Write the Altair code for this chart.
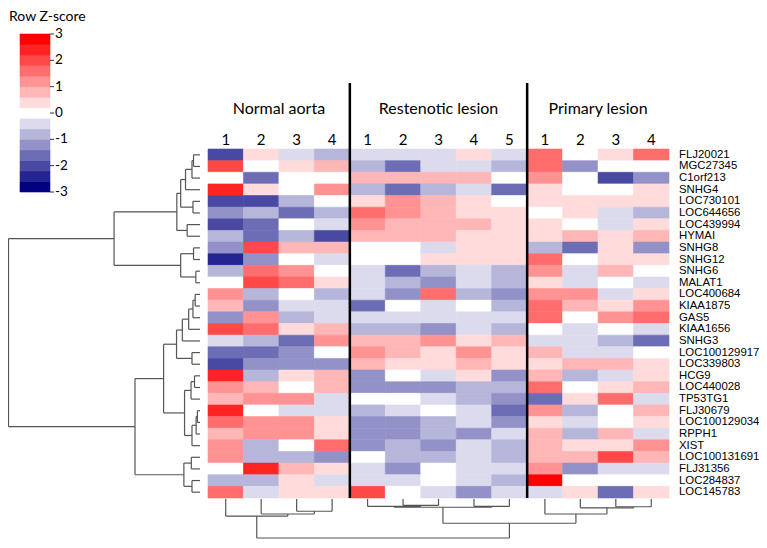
import altair as alt
import pandas as pd

genes = ["FLJ20021", "MGC27345", "C1orf213", "SNHG4", "LOC730101", "LOC644656",
         "LOC439994", "HYMAI", "SNHG8", "SNHG12", "SNHG6", "MALAT1", "LOC400684",
         "KIAA1875", "GAS5", "KIAA1656", "SNHG3", "LOC100129917", "LOC339803", "HCG9",
         "LOC440028", "TP53TG1", "FLJ30679", "LOC100129034", "RPPH1", "XIST",
         "LOC100131691", "FLJ31356", "LOC284837", "LOC145783"]
groups = ["Normal aorta", "Restenotic lesion", "Primary lesion"]
sample_labels = [["1", "2", "3", "4"], ["1", "2", "3", "4", "5"], ["1", "2", "3", "4"]]

# Row Z-scores (one inner list per gene)
normal_aorta = [
    [-2.0, 0.4, -0.4, -0.8], [2.0, 0.0, 0.4, 0.8], [0.0, -1.6, 0.0, 0.0], [2.4, 0.4, 0.0, 1.2],
    [-2.0, -2.0, -0.8, 0.0], [-1.2, -0.8, -1.6, -0.8], [-2.0, -1.6, 0.0, -0.4], [-0.8, -1.6, -0.8, -2.0],
    [-1.2, 2.0, 0.8, 0.8], [-2.4, -1.2, 0.0, -0.4], [-0.8, 1.6, 1.2, 0.0], [0.0, 2.0, 1.6, 0.4],
    [1.2, -0.8, 0.0, -0.8], [0.8, -1.2, -0.4, -0.4], [-1.2, 1.2, -0.8, -0.4], [2.0, 1.6, 0.4, 0.8],
    [-0.4, -0.8, -1.6, 1.2], [-1.6, -1.6, -1.2, 0.0], [-2.0, -1.2, -1.2, -1.2], [2.4, -0.8, 0.4, 0.8],
    [1.2, 0.8, 0.0, 0.8], [0.8, 1.2, 1.2, -0.4], [2.4, 0.0, -0.4, -0.4], [1.6, 1.2, 1.2, 0.4],
    [0.8, 1.2, 1.2, 0.4], [1.2, -0.8, 0.0, 1.6], [1.2, -0.8, -0.8, -1.2], [0.0, 2.4, 0.8, 0.4],
    [-0.8, -0.8, 0.4, -0.4], [1.6, -0.4, 0.4, 0.4]]
restenotic_lesion = [
    [-0.4, -0.4, -0.4, 0.4, -0.4], [-0.8, -1.6, -0.4, -0.4, -0.8], [0.8, 0.8, 0.8, 0.8, 0.0],
    [-0.8, -1.6, -0.8, -0.4, -1.6], [0.4, 1.2, 0.8, 0.4, 0.0], [1.6, 1.2, 0.8, 0.4, 0.4],
    [1.2, 0.8, 0.8, 0.8, 0.4], [0.8, 0.8, 0.8, 0.4, 0.4], [0.0, 0.0, -0.4, 0.4, 0.4],
    [0.0, 0.0, 0.4, 0.4, 0.4], [-0.4, -1.6, -0.8, -0.4, -0.8], [-0.4, -0.8, -1.2, -0.4, -0.8],
    [-0.4, -1.2, 1.6, -0.8, -1.2], [-1.6, 0.0, -0.4, 0.0, -0.8], [-0.4, -0.4, -0.4, -0.4, -0.4],
    [-0.8, -0.8, -1.2, -0.4, -0.8], [0.8, 0.8, 1.2, 0.4, 0.8], [1.2, 0.8, 0.4, 1.2, 0.4],
    [0.8, 0.4, 0.4, 0.8, 0.4], [-1.2, 0.0, -0.4, 0.4, -1.2], [-1.2, -1.2, -1.2, -0.8, -0.8],
    [0.0, 0.0, -0.4, -0.8, -1.2], [-0.8, -0.4, 0.0, -0.4, -1.6], [-1.2, -1.2, -0.8, -0.4, -1.2],
    [-1.2, -1.2, -0.8, -1.2, -0.4], [-1.2, -0.8, -1.2, -0.4, -0.8], [0.0, -0.8, -0.8, -0.4, -0.8],
    [-0.4, -1.2, 0.0, -0.4, -0.4], [-0.4, -0.4, 0.0, -0.4, -0.8], [2.0, 0.0, -0.4, -1.2, -0.4]]
primary_lesion = [
    [1.6, 0.0, 0.4, 1.6], [1.6, -1.2, 0.0, 0.0], [1.2, 0.0, -2.0, -1.2], [0.4, 0.0, 0.0, 0.4],
    [0.4, 0.4, 0.4, 0.4], [0.0, 0.4, -0.4, -0.8], [0.4, 0.0, -0.4, 0.4], [0.4, 0.8, 0.4, 0.8],
    [-0.8, -1.6, 0.4, -1.2], [1.6, 0.0, 0.4, 0.4], [1.2, -0.4, 0.8, 0.0], [0.4, -0.4, 0.0, -0.4],
    [1.2, 1.2, -0.4, 0.4], [1.6, 0.8, 0.4, 1.2], [1.6, 0.0, 1.2, 1.6], [0.0, -0.4, 0.0, -0.4],
    [-0.4, -0.4, -0.8, -1.6], [0.8, -0.4, -0.4, 0.0], [0.4, 0.8, 0.8, 0.4], [0.8, -0.8, -0.4, 0.4],
    [1.6, 0.0, 0.4, 0.8], [-1.6, 0.4, 1.6, -0.4], [1.2, -0.8, 0.0, 0.8], [0.4, -0.4, 0.0, 0.4],
    [0.8, -0.8, 0.8, -0.4], [0.8, 0.4, 0.4, 1.2], [0.8, 0.8, 2.0, 0.8], [1.2, -1.2, -0.4, -0.4],
    [2.8, 0.0, 0.0, 0.0], [-0.4, 0.4, -1.6, 0.4]]

# dendrogram merges: (node, child a, child b, merge height)
row_merges = [
    ("n01", 0, 1, 6.7), ("n012", "n01", 2, 8.3), ("n0123", "n012", 3, 15.0), ("n45", 4, 5, 7.3),
    ("nA1", "n0123", "n45", 20.0), ("n67", 6, 7, 13.3), ("nA", "nA1", "n67", 24.0),
    ("n89", 8, 9, 6.7), ("n1011", 10, 11, 4.3), ("nB", "n89", "n1011", 20.0),
    ("nTop", "nA", "nB", 89.0), ("n1213", 12, 13, 5.0), ("n1214", "n1213", 14, 7.3),
    ("n1215", "n1214", 15, 11.7), ("n1216", "n1215", 16, 18.3), ("n1718", 17, 18, 8.3),
    ("nC1", "n1216", "n1718", 24.3), ("n1920", 19, 20, 5.7), ("n1921", "n1920", 21, 9.3),
    ("n2223", 22, 23, 2.7), ("n2224", "n2223", 24, 4.0), ("n2225", "n2224", 25, 8.3),
    ("nC2", "n1921", "n2225", 16.0), ("nC", "nC1", "nC2", 37.7), ("n2627", 26, 27, 9.0),
    ("n2829", 28, 29, 8.3), ("nD", "n2627", "n2829", 16.7), ("nBot", "nC", "nD", 67.3),
    ("root", "nTop", "nBot", 198.3)]
col_merges = [
    ("n34", 2, 3, 15.3), ("n234", 1, "n34", 18.7), ("nN", 0, "n234", 21.3),
    ("r23", 5, 6, 8.0), ("r123", 4, "r23", 9.3), ("r45", 7, 8, 9.3), ("nR", "r123", "r45", 10.3),
    ("p34", 11, 12, 9.7), ("p234", 10, "p34", 11.0), ("nP", 9, "p234", 18.7),
    ("nRP", "nR", "nP", 30.3), ("croot", "nN", "nRP", 48.7)]

legend_levels = [-2.8, -2.4, -2.0, -1.6, -1.2, -0.8, -0.4, 0.0, 0.4, 0.8, 1.2, 1.6, 2.0, 2.4, 2.8]
legend_ticks = [3, 2, 1, 0, -1, -2, -3]

palette = ["#000080", "#242492", "#4949A4", "#6D6DB6", "#9292C8", "#B6B6DB", "#DBDBED", "#FFFFFF",
           "#FFDBDB", "#FFB6B6", "#FF9292", "#FF6D6D", "#FF4949", "#FF2424", "#FF0000"]

# ---------- tables ----------
group_data = [normal_aorta, restenotic_lesion, primary_lesion]
cells, cols, titles = [], [], []
ci = 0
for g, (gname, labels, mat) in enumerate(zip(groups, sample_labels, group_data)):
    start = ci
    for j, lab in enumerate(labels):
        cols.append({"c": ci, "label": lab})
        for r, gene in enumerate(genes):
            cells.append({"c0": ci - 0.5, "c1": ci + 0.5, "r0": r - 0.5, "r1": r + 0.5,
                          "gene": gene, "z": mat[r][j]})
        ci += 1
    titles.append({"c": (start + ci - 1) / 2, "title": gname})
heat = pd.DataFrame(cells)
cols_df = pd.DataFrame(cols)
titles_df = pd.DataFrame(titles)
bounds = []
acc = 0
for labels in sample_labels[:-1]:
    acc += len(labels)
    bounds.append({"b": acc - 0.5})
bounds_df = pd.DataFrame(bounds)
genes_df = pd.DataFrame({"r": list(range(len(genes))), "gene": genes})


def dendro(merges, n):
    pos = {i: float(i) for i in range(n)}
    ht = {i: 0.0 for i in range(n)}
    segs = []
    for name, a, b, h in merges:
        for ch in (a, b):
            segs.append({"p1": pos[ch], "p2": pos[ch], "h1": ht[ch], "h2": h})
        segs.append({"p1": pos[a], "p2": pos[b], "h1": h, "h2": h})
        pos[name] = (pos[a] + pos[b]) / 2
        ht[name] = h
    return pd.DataFrame(segs)


row_d = dendro(row_merges, len(genes))
col_d = dendro(col_merges, ci)
leg = pd.DataFrame({"lv": legend_levels})
leg["y0"] = leg["lv"] - 0.2
leg["y1"] = leg["lv"] + 0.2
ticks_df = pd.DataFrame({"t": legend_ticks, "label": [str(t) for t in legend_ticks]})

# ---------- scales ----------
ROW = alt.Scale(domain=[-0.5, len(genes) - 0.5], range=[141, 490], zero=False, nice=False)
COL = alt.Scale(domain=[-0.5, ci - 0.5], range=[200, 661], zero=False, nice=False)
RH = alt.Scale(domain=[0, 198.3], range=[192, 0.5], zero=False, nice=False)
CH = alt.Scale(domain=[0, 48.7], range=[491, 530], zero=False, nice=False)
LEG = alt.Scale(domain=[-3, 3], range=[184, 26], zero=False, nice=False)
CLR = alt.Scale(type="quantize", domain=[-3, 3], range=palette)

hm = alt.Chart(heat).mark_rect(strokeWidth=0.6).encode(
    x=alt.X("c0:Q", scale=COL, axis=None), x2="c1",
    y=alt.Y("r0:Q", scale=ROW, axis=None), y2="r1",
    fill=alt.Fill("z:Q", scale=CLR, legend=None),
    stroke=alt.Stroke("z:Q", scale=CLR, legend=None))

seps = alt.Chart(bounds_df).mark_rule(color="black", strokeWidth=2.5).encode(
    x=alt.X("b:Q", scale=COL, axis=None), y=alt.value(75), y2=alt.value(490))

gene_txt = alt.Chart(genes_df).mark_text(align="left", baseline="middle", font="Liberation Sans",
                                         fontSize=11.4, color="black").encode(
    x=alt.value(671), y=alt.Y("r:Q", scale=ROW, axis=None), text="gene:N")

num_txt = alt.Chart(cols_df).mark_text(align="center", baseline="middle", font="Lato",
                                       fontSize=15, color="black").encode(
    x=alt.X("c:Q", scale=COL, axis=None), y=alt.value(132), text="label:N")

title_txt = alt.Chart(titles_df).mark_text(align="center", baseline="middle", font="Lato",
                                           fontSize=16, color="black").encode(
    x=alt.X("c:Q", scale=COL, axis=None), y=alt.value(101), text="title:N")

rowd = alt.Chart(row_d).mark_rule(color="#555555", strokeWidth=1.2).encode(
    x=alt.X("h1:Q", scale=RH, axis=None), x2="h2",
    y=alt.Y("p1:Q", scale=ROW, axis=None), y2="p2")

cold = alt.Chart(col_d).mark_rule(color="#555555", strokeWidth=1.2).encode(
    x=alt.X("p1:Q", scale=COL, axis=None), x2="p2",
    y=alt.Y("h1:Q", scale=CH, axis=None), y2="h2")

leg_rect = alt.Chart(leg).mark_rect(strokeWidth=0.6).encode(
    x=alt.value(12), x2=alt.value(42),
    y=alt.Y("y0:Q", scale=LEG, axis=None), y2="y1",
    fill=alt.Fill("lv:Q", scale=CLR, legend=None),
    stroke=alt.Stroke("lv:Q", scale=CLR, legend=None))

leg_tick = alt.Chart(ticks_df).mark_rule(color="#333333", strokeWidth=1).encode(
    x=alt.value(42), x2=alt.value(46), y=alt.Y("t:Q", scale=LEG, axis=None))

leg_lab = alt.Chart(ticks_df).mark_text(align="left", baseline="middle", font="Lato",
                                        fontSize=13.5, color="black").encode(
    x=alt.value(47), y=alt.Y("t:Q", scale=LEG, axis=None), text="label:N")

leg_title = alt.Chart(pd.DataFrame({"t": ["Row Z-score"]})).mark_text(
    align="left", baseline="top", font="Lato", fontSize=14, color="black").encode(
    x=alt.value(1), y=alt.value(2), text="t:N")

chart = alt.layer(hm, seps, gene_txt, num_txt, title_txt, rowd, cold,
                  leg_rect, leg_tick, leg_lab, leg_title).resolve_scale(
    x="independent", y="independent", fill="shared", stroke="shared"
).properties(
    width=751, height=532, padding=0, autosize=alt.AutoSizeParams(type="none"),
    background="white"
).configure_view(stroke=None)

chart.save("out.html", embed_options={"renderer": "svg", "actions": False})
